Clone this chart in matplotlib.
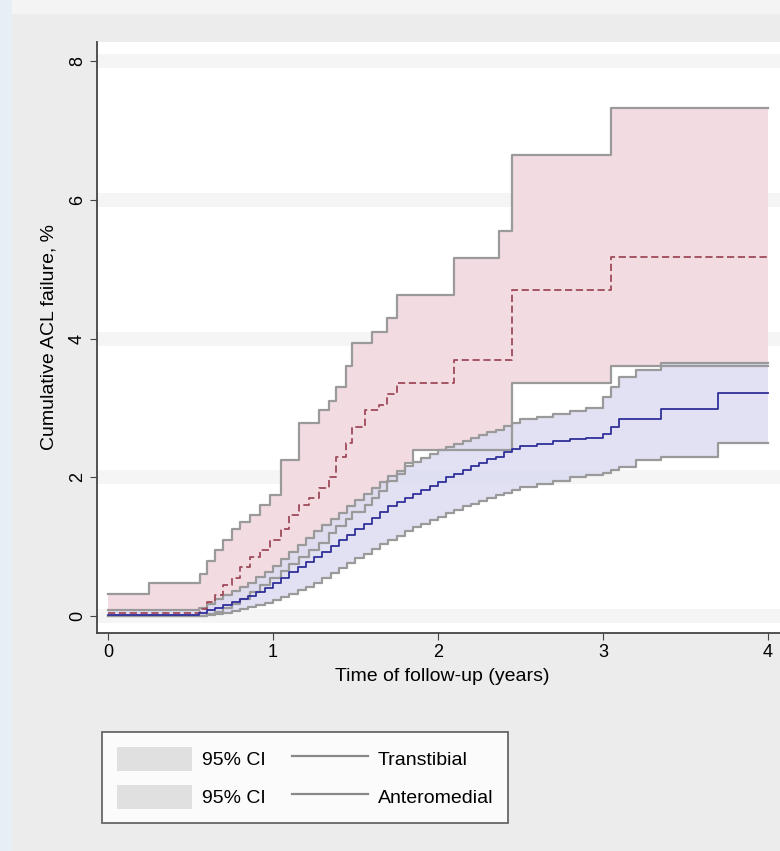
import matplotlib.pyplot as plt
from matplotlib.patches import Patch, Rectangle
from matplotlib.lines import Line2D

plt.rcParams['font.family'] = ['Liberation Sans', 'DejaVu Sans']

# Anteromedial: time (years), estimate, lower and upper 95% CI (%)
am_t = [0, 0.25, 0.56, 0.60, 0.65, 0.70, 0.75, 0.80, 0.86, 0.92, 0.98, 1.05, 1.10, 1.16,
        1.22, 1.28, 1.34, 1.38, 1.44, 1.48, 1.56, 1.60, 1.64, 1.69, 1.75, 1.80, 1.85,
        2.10, 2.37, 2.45, 3.05, 4.00]
am_est = [0.05, 0.05, 0.10, 0.20, 0.30, 0.45, 0.55, 0.70, 0.85, 0.95, 1.10, 1.25, 1.45, 1.60,
          1.70, 1.85, 2.00, 2.30, 2.50, 2.73, 2.97, 2.97, 3.05, 3.20, 3.36, 3.36, 3.36,
          3.70, 3.70, 4.70, 5.18, 5.18]
am_lo = [0.00, 0.00, 0.00, 0.03, 0.06, 0.12, 0.18, 0.25, 0.35, 0.45, 0.55, 0.65, 0.75, 0.85,
         0.95, 1.05, 1.20, 1.30, 1.40, 1.50, 1.60, 1.70, 1.80, 1.95, 2.05, 2.20, 2.40,
         2.40, 2.40, 3.36, 3.60, 3.60]
am_hi = [0.32, 0.48, 0.60, 0.80, 0.95, 1.10, 1.25, 1.35, 1.45, 1.60, 1.75, 2.25, 2.25, 2.78,
         2.78, 2.97, 3.10, 3.30, 3.60, 3.94, 3.94, 4.10, 4.10, 4.30, 4.63, 4.63, 4.63,
         5.17, 5.55, 6.65, 7.33, 7.33]

# Transtibial
tt_t = [0, 0.55, 0.60, 0.65, 0.70, 0.75, 0.80, 0.85, 0.90, 0.95, 1.00, 1.05, 1.10, 1.15,
        1.20, 1.25, 1.30, 1.35, 1.40, 1.45, 1.50, 1.55, 1.60, 1.65, 1.70, 1.75, 1.80,
        1.85, 1.90, 1.95, 2.00, 2.05, 2.10, 2.15, 2.20, 2.25, 2.30, 2.35, 2.40, 2.45,
        2.50, 2.60, 2.70, 2.80, 2.90, 3.00, 3.05, 3.10, 3.20, 3.35, 3.70, 4.00]
tt_est = [0.02, 0.04, 0.08, 0.12, 0.16, 0.20, 0.24, 0.29, 0.34, 0.40, 0.47, 0.55, 0.63, 0.71,
          0.78, 0.85, 0.93, 1.01, 1.09, 1.17, 1.26, 1.33, 1.42, 1.50, 1.58, 1.64, 1.70,
          1.76, 1.82, 1.88, 1.94, 2.00, 2.05, 2.10, 2.16, 2.21, 2.26, 2.30, 2.36, 2.41,
          2.45, 2.48, 2.52, 2.55, 2.57, 2.62, 2.72, 2.84, 2.84, 2.99, 3.22, 3.22]
tt_lo = [0.00, 0.00, 0.01, 0.03, 0.05, 0.07, 0.10, 0.13, 0.16, 0.19, 0.23, 0.27, 0.32, 0.37,
         0.42, 0.48, 0.55, 0.62, 0.69, 0.76, 0.83, 0.90, 0.97, 1.04, 1.10, 1.16, 1.22,
         1.28, 1.33, 1.38, 1.43, 1.48, 1.53, 1.58, 1.62, 1.66, 1.70, 1.74, 1.78, 1.82,
         1.86, 1.90, 1.95, 2.00, 2.04, 2.07, 2.10, 2.15, 2.25, 2.30, 2.50, 2.50]
tt_hi = [0.08, 0.12, 0.18, 0.24, 0.30, 0.36, 0.42, 0.48, 0.56, 0.63, 0.72, 0.82, 0.93, 1.03,
         1.13, 1.22, 1.31, 1.40, 1.49, 1.58, 1.67, 1.76, 1.85, 1.94, 2.02, 2.09, 2.16,
         2.22, 2.28, 2.34, 2.39, 2.44, 2.48, 2.52, 2.57, 2.61, 2.65, 2.69, 2.74, 2.79,
         2.84, 2.87, 2.92, 2.96, 3.00, 3.16, 3.30, 3.45, 3.55, 3.65, 3.65, 3.65]

x_ticks = [0, 1, 2, 3, 4]
y_ticks = [0, 2, 4, 6, 8]

fig = plt.figure(figsize=(7.8, 8.51), dpi=100)
fig.patch.set_facecolor('#f4f4f4')
fig.patches.append(Rectangle((0, 0), 0.016, 1, transform=fig.transFigure,
                             facecolor='#e6eff4', edgecolor='none', zorder=-10))
fig.patches.append(Rectangle((0.016, 0), 1, 1 - 14 / 851, transform=fig.transFigure,
                             facecolor='#ececec', edgecolor='none', zorder=-10))

ax = fig.add_axes([97 / 780, 218 / 851, 1 - 97 / 780 + 0.01, 591 / 851])
ax.set_zorder(1)
ax.set_xlim(-0.066, 4.12)
ax.set_ylim(-0.245, 8.28)
ax.set_facecolor('white')

for v in y_ticks:
    ax.axhline(v, color='#f5f5f5', lw=10, zorder=0)

edge = '#9a9a9a'
ax.fill_between(am_t, am_lo, am_hi, step='post', color='#f2dce2', lw=0, zorder=1)
ax.fill_between(tt_t, tt_lo, tt_hi, step='post', color='#dcdcf2', alpha=0.85, lw=0, zorder=2)
for vals in (am_lo, am_hi):
    ax.step(am_t, vals, where='post', color=edge, lw=1.6, zorder=3)
for vals in (tt_lo, tt_hi):
    ax.step(tt_t, vals, where='post', color=edge, lw=1.6, zorder=3)
ax.step(am_t, am_est, where='post', color='#a04a5a', lw=1.3, ls=(0, (4, 2)), zorder=4)
ax.step(tt_t, tt_est, where='post', color='#30309a', lw=1.3, zorder=4)

for s in ['top', 'right']:
    ax.spines[s].set_visible(False)
for s in ['left', 'bottom']:
    ax.spines[s].set_color('#444444')
    ax.spines[s].set_linewidth(1.3)

ax.set_xticks(x_ticks)
ax.set_yticks(y_ticks)
ax.tick_params(direction='out', length=5, color='#444444', labelsize=13, pad=3)
for lab in ax.get_yticklabels():
    lab.set_rotation(90)
    lab.set_va('center')

ax.set_xlabel('Time of follow-up (years)', fontsize=14, labelpad=5)
ax.set_ylabel('Cumulative ACL failure, %', fontsize=14, labelpad=8)

handles = [Patch(facecolor='#e0e0e0', edgecolor='none'),
           Patch(facecolor='#e0e0e0', edgecolor='none'),
           Line2D([], [], color='#888888', lw=1.6),
           Line2D([], [], color='#888888', lw=1.6)]
labels = ['95% CI', '95% CI', 'Transtibial', 'Anteromedial']
leg = fig.legend(handles, labels, ncol=2, loc='upper left',
                 bbox_to_anchor=(102 / 780, 1 - 732 / 851), borderaxespad=0,
                 frameon=True, fancybox=False, edgecolor='#444444',
                 fontsize=14, handlelength=3.9, handleheight=1.55,
                 columnspacing=1.35, handletextpad=0.5, borderpad=0.75, labelspacing=0.7)
leg.get_frame().set_linewidth(1.3)

fig.savefig('out.png', dpi=100, facecolor=fig.get_facecolor())
